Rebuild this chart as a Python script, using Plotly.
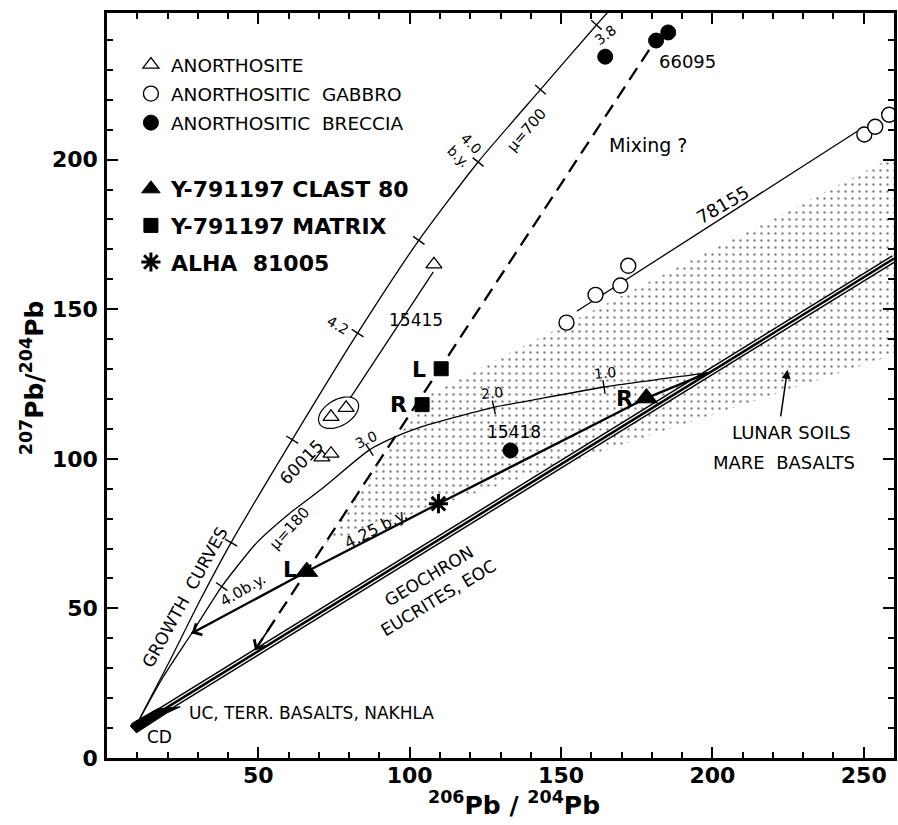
import numpy as np
import plotly.graph_objects as go

# ---------------- data ----------------
ANORTHOSITE_X = [108.0, 74.0, 79.0, 71.0, 74.0]
ANORTHOSITE_Y = [165.0, 114.0, 117.0, 100.5, 101.7]

GABBRO_X = [151.8, 161.4, 169.6, 172.2, 250.2, 253.8, 258.4]
GABBRO_Y = [145.5, 154.8, 157.9, 164.5, 208.4, 211.0, 215.0]

BRECCIA_X = [164.6, 181.4, 185.4, 133.3]
BRECCIA_Y = [234.4, 239.8, 242.5, 102.8]

CLAST_X = [66.0, 178.2]
CLAST_Y = [62.3, 120.3]

MATRIX_X = [110.4, 104.1]
MATRIX_Y = [130.1, 118.1]

ALHA_X = [109.5]
ALHA_Y = [85.0]

# growth curves
MU700_X = [9.3, 20.5, 30.8, 41.0, 61.2, 82.8, 103.0, 122.6, 143.2, 161.7, 167.0]
MU700_Y = [10.3, 32.0, 52.8, 72.0, 106.4, 142.0, 173.0, 199.2, 223.4, 245.0, 251.0]
MU700_TICK_X = [41.0, 61.2, 82.8, 103.0, 122.6, 143.2, 161.7]
MU700_TICK_Y = [72.0, 106.4, 142.0, 173.0, 199.2, 223.4, 245.0]

MU180_X = [9.3, 18.5, 28.0, 37.9, 49.5, 60.0, 71.0, 86.7, 95.6, 106.4, 127.8, 140.0, 164.2, 198.5]
MU180_Y = [10.3, 27.0, 41.7, 57.3, 72.0, 81.5, 90.0, 103.0, 107.5, 111.5, 117.2, 119.5, 124.0, 128.7]
MU180_TICK_X = [37.9, 86.7, 127.8, 164.2]
MU180_TICK_Y = [57.3, 103.0, 117.2, 124.0]

# 4.25 b.y. line through clast 80 fractions and ALHA 81005
ISO_X = [28.0, 66.0, 109.5, 178.2, 198.5]
ISO_Y = [41.7, 62.3, 85.0, 120.3, 128.7]

# mixing line (dashed)
MIX_X = [48.9, 181.0]
MIX_Y = [36.1, 239.6]

# 78155 line and 15415 line
L78155_X = [155.2, 247.9]
L78155_Y = [149.3, 209.5]
L15415_X = [80.4, 107.8]
L15415_Y = [120.4, 162.5]

# geochron
GEO_X = [9.3, 260.0]
GEO_Y = [10.3, 166.9]

# lunar soils / mare basalts field
BAND_X = [72.5, 105.4, 260.0, 260.0]
BAND_Y = [72.0, 121.0, 201.0, 134.8]

# UC / terrestrial basalts wedge near CD
WEDGE_X = [7.7, 9.7, 19.9, 24.2, 16.6, 8.4]
WEDGE_Y = [10.7, 8.4, 15.1, 17.1, 16.4, 11.7]

X_RANGE = [0, 260]
Y_RANGE = [0, 249]
X_TICKS = [0, 50, 100, 150, 200, 250]
Y_TICKS = [0, 50, 100, 150, 200]

# ---------------- layout constants ----------------
W, H = 898, 825
ML, MR, MT, MB = 107, 1, 13, 67
PW, PH = W - ML - MR, H - MT - MB
SX = PW / (X_RANGE[1] - X_RANGE[0])
SY = PH / (Y_RANGE[1] - Y_RANGE[0])
FONT = "DejaVu Sans"


def tick_angles(cx, cy, tx):
    out = []
    for x0 in tx:
        y1, y2 = np.interp([x0 - 1.5, x0 + 1.5], cx, cy)
        th = np.degrees(np.arctan2((y2 - y1) * SY, 3.0 * SX))
        out.append(-th)
    return out


fig = go.Figure()

# stippled field
fig.add_trace(go.Scatter(
    x=BAND_X + [BAND_X[0]], y=BAND_Y + [BAND_Y[0]], mode="lines",
    line=dict(width=0, color="rgba(0,0,0,0)"), fill="toself",
    fillcolor="rgba(255,255,255,0)",
    fillpattern=dict(shape=".", size=7, solidity=0.09, fgcolor="black",
                     bgcolor="rgba(255,255,255,0)"),
    showlegend=False, hoverinfo="skip"))

# geochron (railroad line)
for wdt, col in [(8, "black"), (5, "white"), (2.5, "black")]:
    fig.add_trace(go.Scatter(x=GEO_X, y=GEO_Y, mode="lines",
                             line=dict(width=wdt, color=col),
                             showlegend=False, hoverinfo="skip"))

# growth curves
for cx, cy in [(MU700_X, MU700_Y), (MU180_X, MU180_Y)]:
    fig.add_trace(go.Scatter(x=cx, y=cy, mode="lines",
                             line=dict(width=1.3, color="black", shape="spline", smoothing=0.6),
                             showlegend=False, hoverinfo="skip"))

# tick marks on growth curves
for cx, cy, tx, ty in [(MU700_X, MU700_Y, MU700_TICK_X, MU700_TICK_Y),
                       (MU180_X, MU180_Y, MU180_TICK_X, MU180_TICK_Y)]:
    fig.add_trace(go.Scatter(x=tx, y=ty, mode="markers",
                             marker=dict(symbol="line-ns", size=10, angle=tick_angles(cx, cy, tx),
                                         line=dict(width=1.4, color="black")),
                             showlegend=False, hoverinfo="skip"))

# 4.25 b.y. line
fig.add_trace(go.Scatter(x=ISO_X, y=ISO_Y, mode="lines",
                         line=dict(width=2.3, color="black"),
                         showlegend=False, hoverinfo="skip"))
# mixing line
fig.add_trace(go.Scatter(x=MIX_X, y=MIX_Y, mode="lines",
                         line=dict(width=2.3, color="black", dash="14px,8px"),
                         showlegend=False, hoverinfo="skip"))
# 78155 and 15415 lines
for lx, ly in [(L78155_X, L78155_Y), (L15415_X, L15415_Y)]:
    fig.add_trace(go.Scatter(x=lx, y=ly, mode="lines",
                             line=dict(width=1.3, color="black"),
                             showlegend=False, hoverinfo="skip"))
# wedge
fig.add_trace(go.Scatter(x=WEDGE_X + [WEDGE_X[0]], y=WEDGE_Y + [WEDGE_Y[0]], mode="lines",
                         fill="toself", fillcolor="black", line=dict(width=1, color="black"),
                         showlegend=False, hoverinfo="skip"))

# ellipse around two 15415 anorthosites
ELL_CX, ELL_CY, ELL_A, ELL_B, ELL_ROT = 76.5, 115.4, 22.0, 13.0, 30.0
t = np.linspace(0, 2 * np.pi, 60)
r = np.radians(ELL_ROT)
ex = (ELL_A * np.cos(t) * np.cos(r) - ELL_B * np.sin(t) * np.sin(r)) / SX + ELL_CX
ey = (ELL_A * np.cos(t) * np.sin(r) + ELL_B * np.sin(t) * np.cos(r)) / SY + ELL_CY
ell_path = "M" + " L".join(f"{a:.3f},{b:.3f}" for a, b in zip(ex, ey)) + " Z"

# data markers (legend 1)
fig.add_trace(go.Scatter(x=ANORTHOSITE_X, y=ANORTHOSITE_Y, mode="markers", name="ANORTHOSITE",
                         marker=dict(symbol="triangle-up", size=14, color="white",
                                     line=dict(width=1.3, color="black")),
                         legend="legend", legendgroup="a"))
fig.add_trace(go.Scatter(x=GABBRO_X, y=GABBRO_Y, mode="markers", name="ANORTHOSITIC  GABBRO",
                         marker=dict(symbol="circle", size=15, color="white",
                                     line=dict(width=1.4, color="black")),
                         legend="legend", legendgroup="b"))
fig.add_trace(go.Scatter(x=BRECCIA_X, y=BRECCIA_Y, mode="markers", name="ANORTHOSITIC  BRECCIA",
                         marker=dict(symbol="circle", size=15, color="black",
                                     line=dict(width=1, color="black")),
                         legend="legend", legendgroup="c"))
# legend 2
fig.add_trace(go.Scatter(x=CLAST_X, y=CLAST_Y, mode="markers", name="Y-791197 CLAST 80",
                         marker=dict(symbol="triangle-up", size=19, color="black",
                                     line=dict(width=1, color="black")),
                         legend="legend2", legendgroup="d"))
fig.add_trace(go.Scatter(x=MATRIX_X, y=MATRIX_Y, mode="markers", name="Y-791197 MATRIX",
                         marker=dict(symbol="square", size=14, color="black",
                                     line=dict(width=1, color="black")),
                         legend="legend2", legendgroup="e"))
fig.add_trace(go.Scatter(x=ALHA_X, y=ALHA_Y, mode="markers", name="ALHA  81005",
                         marker=dict(symbol="asterisk-open", size=16, color="black",
                                     line=dict(width=3, color="black")),
                         legend="legend2", legendgroup="f"))

# ---------------- annotations ----------------
LABELS = [
    # text, x, y, size, angle, bold
    ("15415", 102.1, 146.5, 17, 0, False),
    ("15418", 134.4, 109.0, 17, 0, False),
    ("60015", 64.2, 99.1, 17, -46, False),
    ("GROWTH  CURVES", 25.8, 53.8, 17, -61, False),
    ("\u03bc=180", 60.4, 76.9, 15, -48, False),
    ("4.0b.y.", 44.9, 56.2, 15, -30, False),
    ("4.25 b.y.", 88.9, 76.6, 16, -27, False),
    ("\u03bc=700", 138.6, 210.0, 15, -49, False),
    ("4.2", 76.2, 144.8, 14, 30, False),
    ("3.0", 85.4, 106.4, 14, -25, False),
    ("2.0", 127.1, 122.1, 14, -5, False),
    ("1.0", 164.6, 128.8, 14, -5, False),
    ("3.8", 164.6, 241.8, 14, -37, False),
    ("4.0<br>b.y.", 118.3, 203.3, 14, 45, False),
    ("Mixing ?", 178.8, 205.0, 19, 0, False),
    ("66095", 191.9, 232.8, 18, 0, False),
    ("78155", 203.5, 185.0, 18, -30, False),
    ("LUNAR SOILS", 226.2, 108.7, 18, 0, False),
    ("MARE  BASALTS", 223.8, 98.7, 18, 0, False),
    ("GEOCHRON", 106.4, 60.9, 17, -31, False),
    ("EUCRITES, EOC", 109.4, 53.5, 17, -31, False),
    ("CD", 17.3, 7.0, 17, 0, False),
    ("L", 60.4, 62.9, 22, 0, True),
    ("R", 96.2, 118.1, 22, 0, True),
    ("L", 103.1, 129.8, 22, 0, True),
    ("R", 171.1, 120.1, 22, 0, True),
]
ann = []
for txt, x, y, s, ang, b in LABELS:
    ann.append(dict(text=txt, x=x, y=y, xref="x", yref="y", showarrow=False,
                    textangle=ang, xanchor="center", yanchor="middle",
                    font=dict(family=FONT, size=s, color="black",
                              weight="bold" if b else "normal")))
ann.append(dict(text="UC, TERR. BASALTS, NAKHLA", x=26.5, y=15.1, xref="x", yref="y",
                showarrow=False, xanchor="left", yanchor="middle",
                font=dict(family=FONT, size=17, color="black")))

# arrowheads
def head(xs, ys, frac):
    return dict(x=xs[0], y=ys[0], ax=xs[0] + frac * (xs[1] - xs[0]),
                ay=ys[0] + frac * (ys[1] - ys[0]), xref="x", yref="y",
                axref="x", ayref="y", text="", showarrow=True, arrowhead=4,
                arrowsize=1.4, arrowwidth=1.8, arrowcolor="black")

ann.append(head(MIX_X, MIX_Y, 0.04))
ann.append(head(ISO_X, ISO_Y, 0.2))
ARROW_TAIL = (222.5, 113.7)
ARROW_TIP = (224.8, 129.8)
ann.append(dict(x=ARROW_TIP[0], y=ARROW_TIP[1], ax=ARROW_TAIL[0], ay=ARROW_TAIL[1],
                xref="x", yref="y", axref="x", ayref="y", text="", showarrow=True,
                arrowhead=2, arrowsize=1.2, arrowwidth=1.5, arrowcolor="black"))

# axis titles
ann.append(dict(text="<sup>206</sup>Pb / <sup>204</sup>Pb", x=(516 - ML) / PW, y=-(803 - (H - MB)) / PH,
                xref="paper", yref="paper", showarrow=False, xanchor="center", yanchor="middle",
                font=dict(family=FONT, size=25, color="black", weight="bold")))
ann.append(dict(text="<sup>207</sup>Pb/<sup>204</sup>Pb", x=(33 - ML) / PW, y=((H - MB) - 378) / PH,
                xref="paper", yref="paper", showarrow=False, xanchor="center", yanchor="middle",
                textangle=-90,
                font=dict(family=FONT, size=25, color="black", weight="bold")))

axis_common = dict(showgrid=False, zeroline=False, showline=True, linewidth=2.5,
                   linecolor="black", mirror="ticks", ticks="inside", ticklen=11,
                   tickwidth=2, tickcolor="black",
                   tickfont=dict(family=FONT, size=22, color="black", weight="bold"),
                   minor=dict(ticks="inside", ticklen=6, tickwidth=1.5, tickcolor="black",
                              dtick=10, tick0=0))

fig.update_layout(
    width=W, height=H, margin=dict(l=ML, r=MR, t=MT, b=MB),
    paper_bgcolor="white", plot_bgcolor="white",
    xaxis=dict(range=X_RANGE, tickmode="array", tickvals=X_TICKS, labelalias={"0": " "},
               ticklabelstandoff=-4, **axis_common),
    yaxis=dict(range=Y_RANGE, tickmode="array", tickvals=Y_TICKS, ticklabelstandoff=2,
               **axis_common),
    legend=dict(x=(131 - ML) / PW, y=((H - MB) - 46) / PH, xanchor="left", yanchor="top",
                font=dict(family=FONT, size=18.5, color="black"), bgcolor="rgba(0,0,0,0)",
                traceorder="grouped", tracegroupgap=2),
    legend2=dict(x=(131 - ML) / PW, y=((H - MB) - 168) / PH, xanchor="left", yanchor="top",
                 font=dict(family=FONT, size=22, color="black", weight="bold"),
                 bgcolor="rgba(0,0,0,0)", traceorder="grouped", tracegroupgap=5),
    annotations=ann,
    shapes=[dict(type="path", path=ell_path, xref="x", yref="y",
                 line=dict(color="black", width=1.2))],
    showlegend=True,
)

fig.write_html("out.html", config={"displayModeBar": False},
               post_script="document.body.style.margin='0px';document.body.style.overflow='hidden';")
